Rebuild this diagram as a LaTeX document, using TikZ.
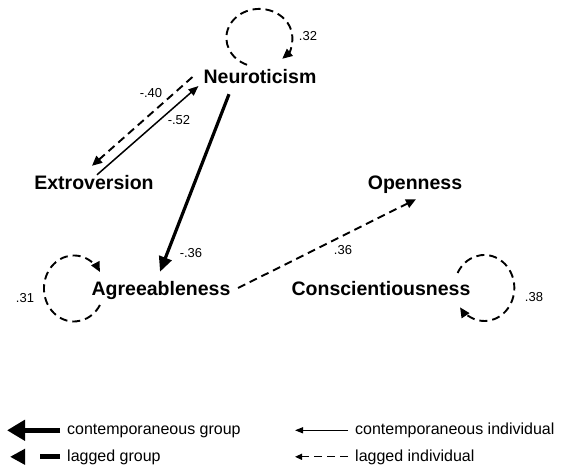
\documentclass[tikz,border=0pt]{standalone}
\usepackage{fontspec}
\setmainfont{Liberation Sans}
\usepackage{tikz}
\usetikzlibrary{arrows.meta, positioning}

\begin{document}
\begin{tikzpicture}[
        x=1pt, y=1pt,
        trait/.style={
            anchor=base,
            inner sep=0pt,
            text height=14pt,
            text depth=4pt,
            font=\fontsize{19.5}{22}\selectfont\bfseries
        },
        weight/.style={
            inner sep=0pt,
            font=\fontsize{13}{15}\selectfont
        },
        legendtext/.style={
            anchor=base west,
            inner sep=0pt,
            font=\fontsize{16}{18}\selectfont
        },
        groupnow/.style={
            -{Triangle[length=15pt, width=13pt]},
            line width=3.2pt
        },
        indivnow/.style={
            -{Triangle[length=10pt, width=8pt]},
            line width=1.5pt
        },
        indivlag/.style={
            -{Triangle[length=10pt, width=9pt]},
            line width=1.9pt,
            dash pattern=on 8pt off 5pt
        }
    ]

        \useasboundingbox (0,0) rectangle (564,466);

        % ---------------------------------------------------------------------
        % Traits
        % ---------------------------------------------------------------------

        \node[trait] (neur) at (260,382) {Neuroticism};

        \node[trait] (extr) at (94,276) {Extroversion};

        \node[trait] (open) at (415,276) {Openness};

        \node[trait] (agre) at (161,171) {Agreeableness};

        \node[trait] (cons) at (381,171) {Conscientiousness};


        % ---------------------------------------------------------------------
        % Paths between traits
        % ---------------------------------------------------------------------

        \draw[groupnow]
            ([shift={(-31,-6)}]neur.south) -- ([shift={(-1,9)}]agre.north);

        \draw[indivlag]
            ([shift={(-11,2)}]neur.west) -- ([shift={(-2,10)}]extr.north);

        \draw[indivnow]
            ([shift={(3,1)}]extr.north) -- ([shift={(-5,-7)}]neur.west);

        \draw[indivlag]
            ([shift={(7.5,2)}]agre.east) -- ([shift={(1,-5)}]open.south);

        % Autoregressive loops, all lagged.
        \draw[indivlag]
            ([shift={(-13,5)}]neur.north)
            arc[start angle=248, end angle=-46, x radius=33pt, y radius=29pt];

        \draw[indivlag]
            ([shift={(8.5,-15)}]agre.west)
            arc[start angle=-30, end angle=-330, x radius=30pt, y radius=33pt];

        \draw[indivlag]
            ([shift={(-13,17)}]cons.east)
            arc[start angle=153, end angle=-144, x radius=30pt, y radius=33pt];


        % ---------------------------------------------------------------------
        % Weights
        % ---------------------------------------------------------------------

        \node[weight] (wneur) at (308,430) {.32};
        \node[weight] (wagre) at (25,168) {.31};
        \node[weight] (wcons) at (534,169) {.38};
        \node[weight] (wnelag) at (151,373) {-.40};
        \node[weight] (wennow) at (179,346) {-.52};
        \node[weight] (wnanow) at (191,213) {-.36};
        \node[weight] (waolag) at (343,216) {.36};


        % ---------------------------------------------------------------------
        % Legend
        % ---------------------------------------------------------------------

        \node[legendtext] (lgcg) at (67,31.5) {contemporaneous group};
        \node[legendtext] (lglg) at (67,5) {lagged group};
        \node[legendtext] (lgci) at (355,31.5) {contemporaneous individual};
        \node[legendtext] (lgli) at (355,5) {lagged individual};

        \coordinate (cgtip) at (7,35.7);
        \coordinate (lgtip) at (10,9.2);
        \coordinate (citip) at (295,35.7);
        \coordinate (litip) at (295,9.2);

        \draw[-{Triangle[length=18pt, width=20pt]}, line width=5pt]
            ([shift={(-7,4.2)}]lgcg.base west) -- (cgtip);

        \draw[-{Triangle[length=15pt, width=15pt]}, line width=5pt,
              dash pattern=on 20pt off 40pt]
            ([shift={(-7,4.2)}]lglg.base west) -- (lgtip);

        \draw[-{Triangle[length=8pt, width=6pt]}, line width=1.3pt]
            ([shift={(-7,4.2)}]lgci.base west) -- (citip);

        \draw[-{Triangle[length=7pt, width=6pt]}, line width=1.3pt,
              dash pattern=on 8pt off 5pt]
            ([shift={(-7,4.2)}]lgli.base west) -- (litip);

    \end{tikzpicture}
\end{document}
